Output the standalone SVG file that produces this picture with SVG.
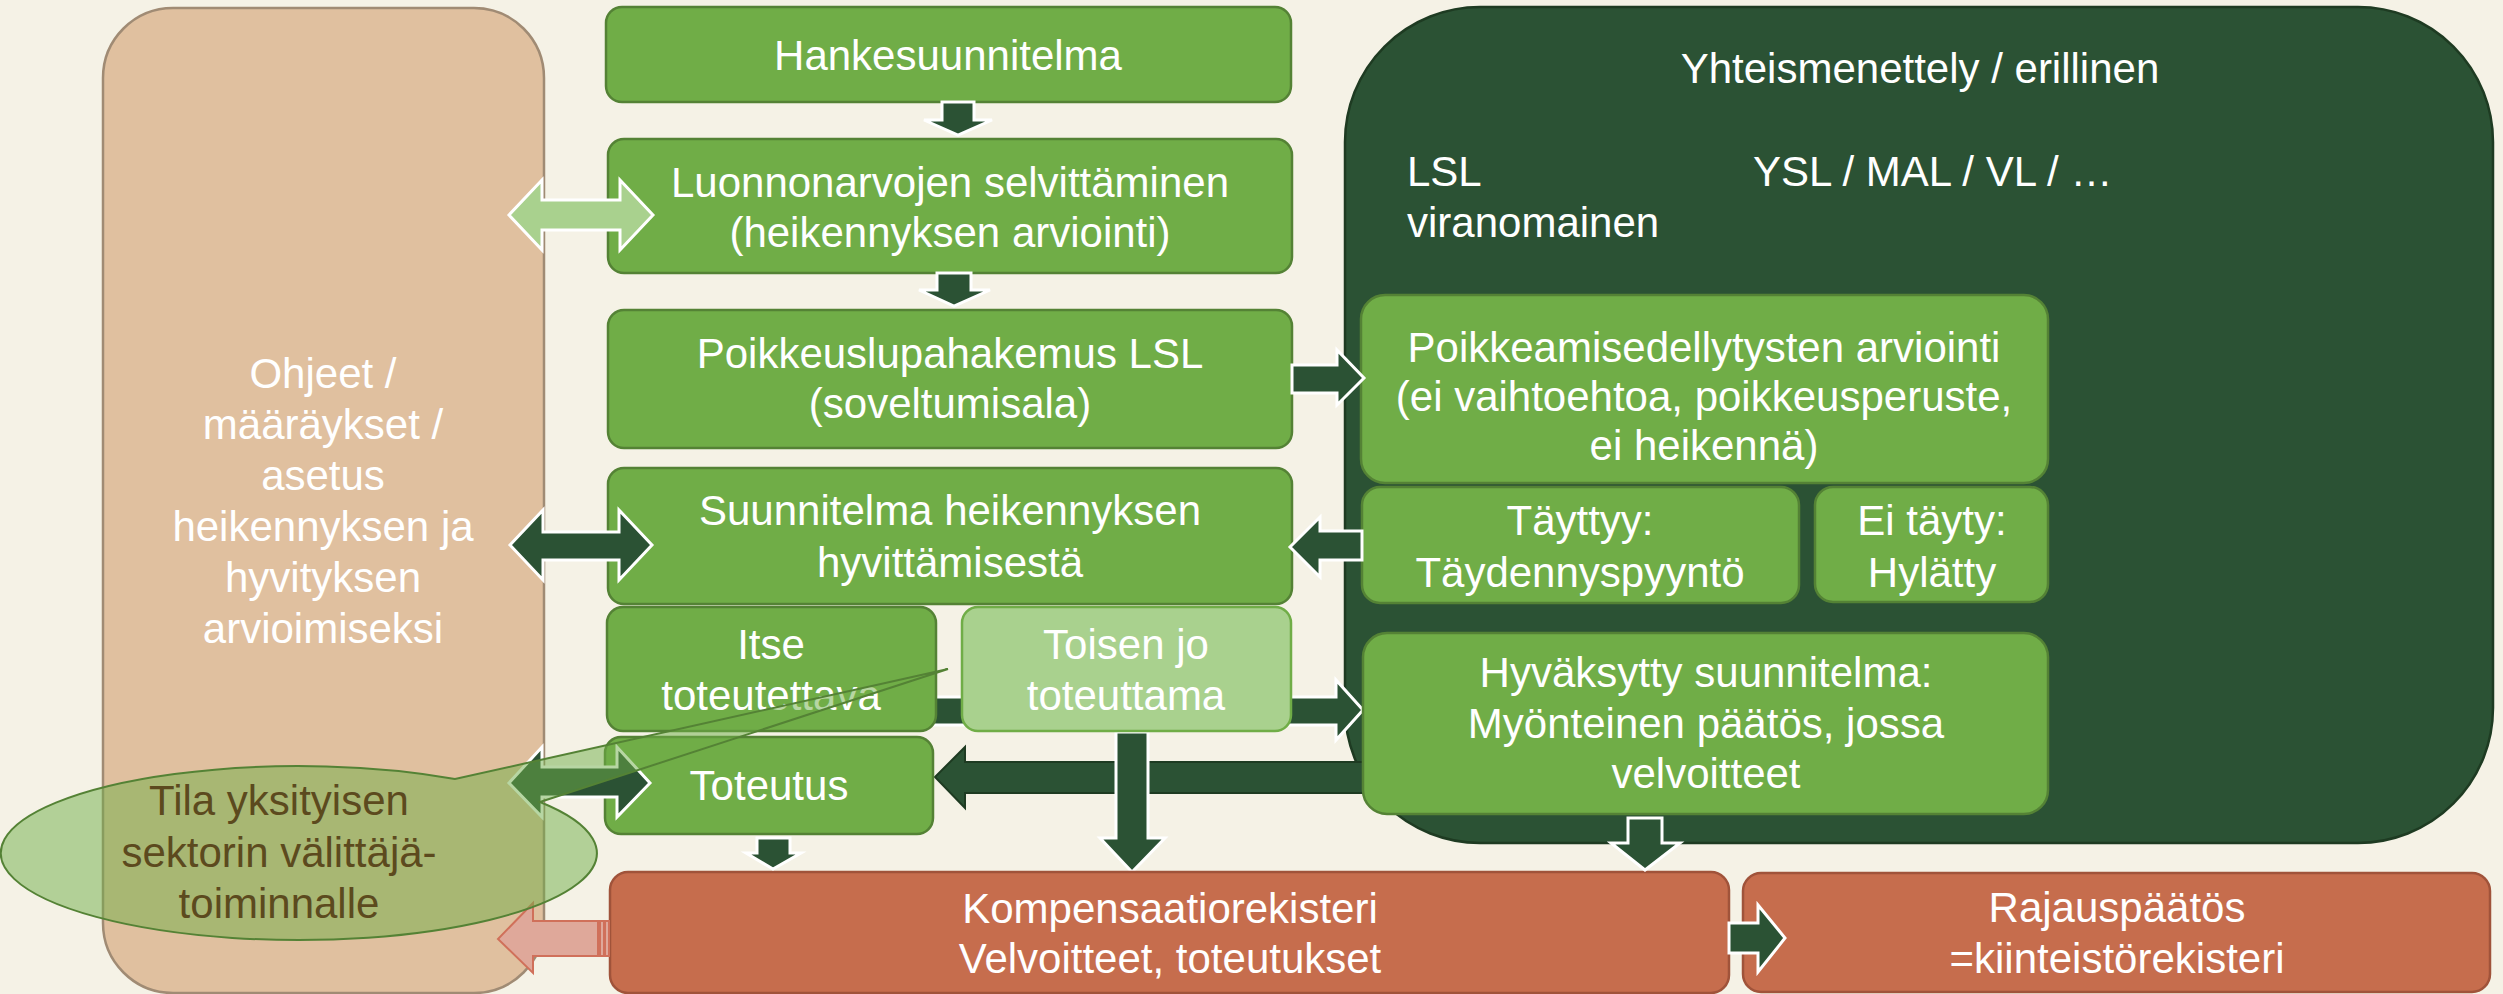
<svg xmlns="http://www.w3.org/2000/svg" width="2503" height="994" viewBox="0 0 2503 994">
<style>
text{font-family:"Liberation Sans",Arial,sans-serif;font-size:42px;fill:#fff}
.c{text-anchor:middle}
.g{fill:#70AD47;stroke:#548235;stroke-width:2.5}
.lg{fill:#A9D18E;stroke:#70AD47;stroke-width:2.5}
.o{fill:#C66D4D;stroke:#A0533A;stroke-width:2.5}
.da{fill:#2B5234;stroke:#fff;stroke-width:3;stroke-linejoin:miter}
.dd{fill:#2B5234;stroke:#1E3B22;stroke-width:2}
.la{fill:#A9D18E;stroke:#fff;stroke-width:3}
.pa{fill:#DFA89A;stroke:#D0705A;stroke-width:2}
</style>
<rect x="0" y="0" width="2503" height="994" fill="#F5F2E6"/>
<g id="ohjeet">
<rect x="103" y="8" width="441" height="985" rx="70" fill="#E0C09F" stroke="#A08B74" stroke-width="2.5"/>
<text class="c" x="323" y="388">Ohjeet /</text>
<text class="c" x="323" y="439">määräykset /</text>
<text class="c" x="323" y="490">asetus</text>
<text class="c" x="323" y="541">heikennyksen ja</text>
<text class="c" x="323" y="592">hyvityksen</text>
<text class="c" x="323" y="643">arvioimiseksi</text>
</g>
<g id="yhteismenettely">
<rect x="1345" y="7" width="1148" height="836" rx="135" fill="#2B5234" stroke="#1E3B22" stroke-width="2.5"/>
<text class="c" x="1920" y="83">Yhteismenettely / erillinen</text>
<text x="1407" y="186">LSL</text>
<text x="1407" y="237">viranomainen</text>
<text x="1753" y="186">YSL / MAL / VL / …</text>
</g>
<g id="connectors-back">
<polygon class="dd" points="1375,762 965,762 965,747 935,777 965,808 965,793 1375,793"/>
<polygon class="da" points="1116,732 1148,732 1148,838 1165,838 1132,872 1100,838 1116,838"/>
<polygon class="da" points="933,697 1336,697 1336,680 1363,710 1336,740 1336,725 933,725"/>
</g>
<g id="hankesuunnitelma">
<rect class="g" x="606" y="7" width="685" height="95" rx="16"/>
<text class="c" x="948" y="70">Hankesuunnitelma</text>
</g>
<g id="luonnonarvot">
<rect class="g" x="608" y="139" width="684" height="134" rx="16"/>
<text class="c" x="950" y="197">Luonnonarvojen selvittäminen</text>
<text class="c" x="950" y="247">(heikennyksen arviointi)</text>
</g>
<g id="poikkeuslupahakemus">
<rect class="g" x="608" y="310" width="684" height="138" rx="16"/>
<text class="c" x="950" y="368">Poikkeuslupahakemus LSL</text>
<text class="c" x="950" y="418">(soveltumisala)</text>
</g>
<g id="suunnitelma">
<rect class="g" x="608" y="468" width="684" height="136" rx="16"/>
<text class="c" x="950" y="525">Suunnitelma heikennyksen</text>
<text class="c" x="950" y="577">hyvittämisestä</text>
</g>
<g id="itse">
<rect class="g" x="607" y="607" width="329" height="124" rx="16"/>
<text class="c" x="771" y="659">Itse</text>
<text class="c" x="771" y="710">toteutettava</text>
</g>
<g id="toisen">
<rect class="lg" x="962" y="607" width="329" height="124" rx="16"/>
<text class="c" x="1126" y="659">Toisen jo</text>
<text class="c" x="1126" y="710">toteuttama</text>
</g>
<g id="toteutus">
<rect class="g" x="605" y="737" width="328" height="97" rx="16"/>
<text class="c" x="769" y="800">Toteutus</text>
</g>
<g id="poikkeamisedellytykset">
<rect class="g" x="1361" y="295" width="687" height="188" rx="24"/>
<text class="c" x="1704" y="362">Poikkeamisedellytysten arviointi</text>
<text class="c" x="1704" y="411">(ei vaihtoehtoa, poikkeusperuste,</text>
<text class="c" x="1704" y="460">ei heikennä)</text>
</g>
<g id="tayttyy">
<rect class="g" x="1362" y="487" width="437" height="116" rx="18"/>
<text class="c" x="1580" y="535">Täyttyy:</text>
<text class="c" x="1580" y="587">Täydennyspyyntö</text>
</g>
<g id="ei-tayty">
<rect class="g" x="1815" y="487" width="233" height="115" rx="18"/>
<text class="c" x="1932" y="535">Ei täyty:</text>
<text class="c" x="1932" y="587">Hylätty</text>
</g>
<g id="hyvaksytty">
<rect class="g" x="1363" y="633" width="685" height="181" rx="24"/>
<text class="c" x="1706" y="687">Hyväksytty suunnitelma:</text>
<text class="c" x="1706" y="738">Myönteinen päätös, jossa</text>
<text class="c" x="1706" y="788">velvoitteet</text>
</g>
<g id="kompensaatiorekisteri">
<rect class="o" x="610" y="872" width="1119" height="121" rx="18"/>
<text class="c" x="1170" y="923">Kompensaatiorekisteri</text>
<text class="c" x="1170" y="973">Velvoitteet, toteutukset</text>
</g>
<g id="rajauspaatos">
<rect class="o" x="1743" y="873" width="747" height="119" rx="18"/>
<text class="c" x="2117" y="922">Rajauspäätös</text>
<text class="c" x="2117" y="973">=kiinteistörekisteri</text>
</g>
<g id="connectors">
<polygon class="da" points="942,102 974,102 974,120 992,120 958,135 924,120 942,120"/>
<polygon class="da" points="937,273 971,273 971,290 990,290 954,306 919,290 937,290"/>
<polygon class="la" points="509,215 542,180 542,200 620,200 620,180 653,215 620,250 620,230 542,230 542,250"/>
<polygon class="da" points="1292,365 1337,365 1337,350 1364,378 1337,405 1337,393 1292,393"/>
<polygon class="da" points="1362,531 1320,531 1320,517 1290,547 1320,577 1320,560 1362,560"/>
<polygon class="da" points="510,545 543,510 543,532 619,532 619,510 652,545 619,580 619,560 543,560 543,580"/>
<polygon class="da" points="509,783 542,747 542,767 617,767 617,747 650,783 617,817 617,797 542,797 542,817"/>
<polygon class="da" points="757,838 790,838 790,853 801,853 773,869 746,853 757,853"/>
<polygon class="da" points="1628,818 1662,818 1662,843 1680,843 1645,870 1611,843 1628,843"/>
<polygon class="da" points="1729,923 1758,923 1758,905 1785,938 1758,972 1758,953 1729,953"/>
<polygon class="pa" points="598,921 533,921 533,903 498,939 533,973 533,956 598,956"/>
<rect class="pa" x="600" y="921" width="4" height="35" stroke-width="1.5"/>
<rect class="pa" x="605" y="921" width="4" height="35" stroke-width="1.5"/>
</g>
<g id="callout">
<path d="M540,802 L948,669 L455,779 A298,87 0 1 0 540,802 Z" fill="#70AD47" fill-opacity="0.5" stroke="#548235" stroke-width="2"/>
<text class="c" x="279" y="815" style="fill:#5C4A1E">Tila yksityisen</text>
<text class="c" x="279" y="867" style="fill:#5C4A1E">sektorin välittäjä-</text>
<text class="c" x="279" y="918" style="fill:#5C4A1E">toiminnalle</text>
</g>
</svg>
